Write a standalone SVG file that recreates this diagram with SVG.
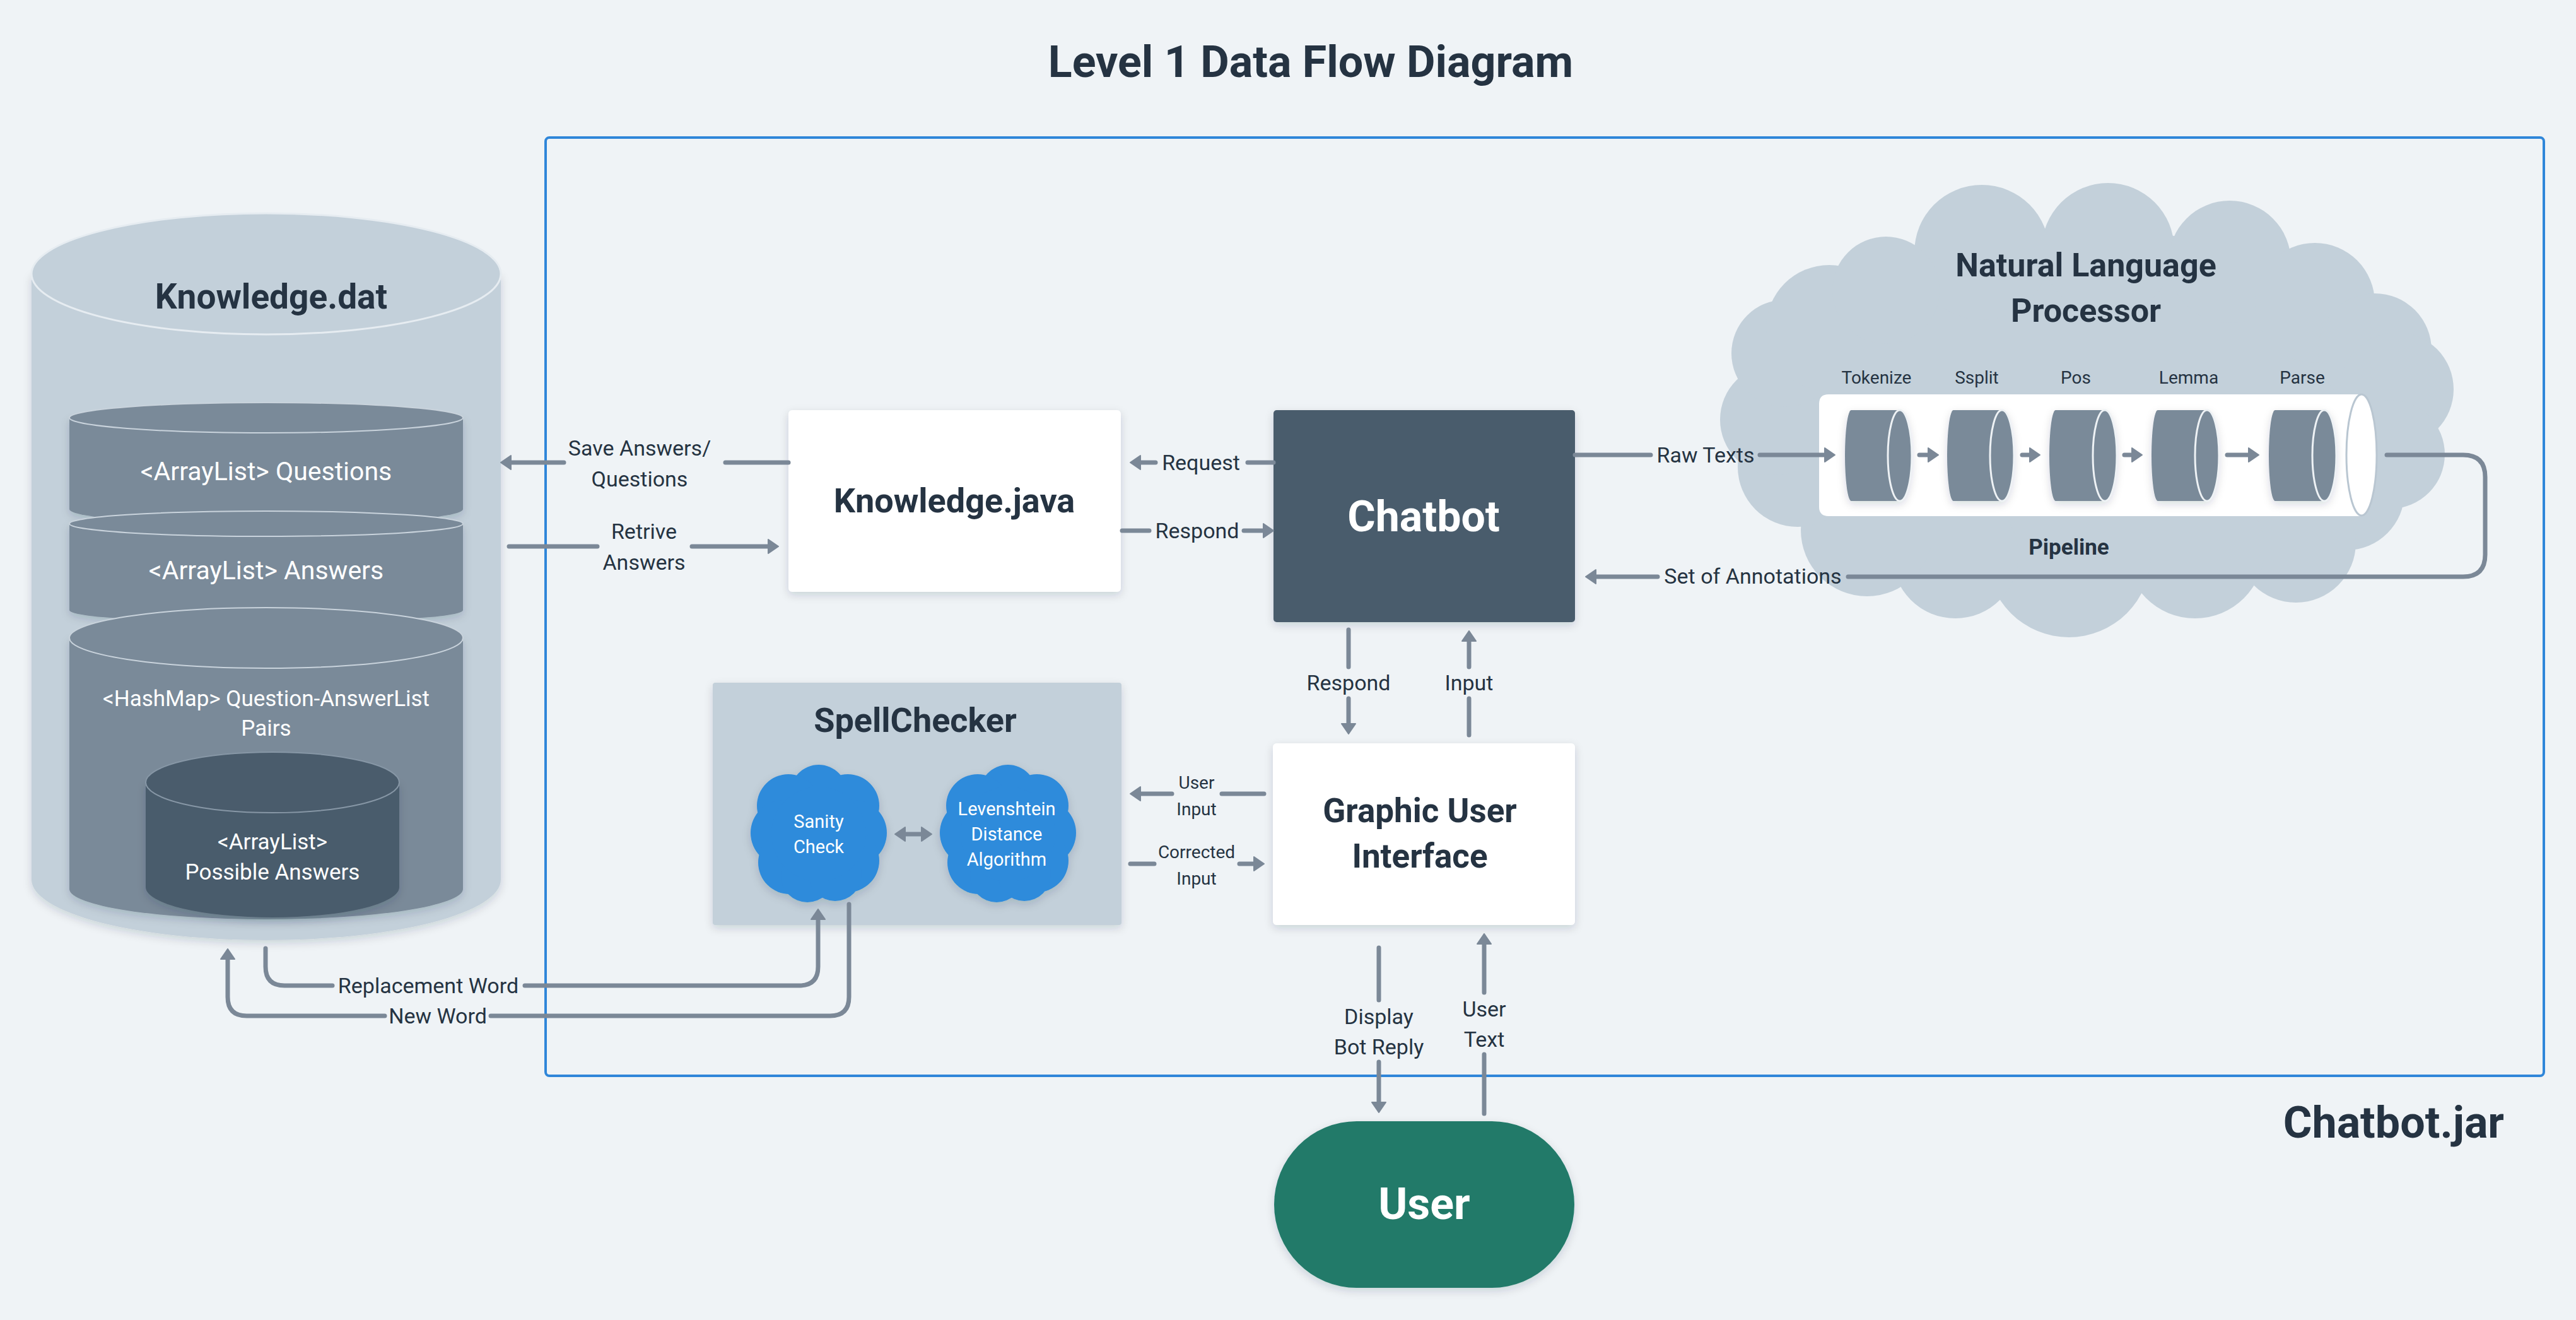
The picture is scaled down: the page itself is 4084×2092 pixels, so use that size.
<svg xmlns="http://www.w3.org/2000/svg" xmlns:xlink="http://www.w3.org/1999/xlink" width="4084" height="2092" viewBox="0 0 4084 2092">
<defs>
<style>
.t{font-family:Roboto,"Liberation Sans",sans-serif;fill:#253342;text-anchor:middle}
.b{font-weight:700}
.w{fill:#ffffff}
.lbl{font-size:34px}
.sm{font-size:28px}
.ln{fill:none;stroke:#7b8897;stroke-width:7;stroke-linecap:round;stroke-linejoin:round}
.arr{marker-end:url(#ah)}
.box{fill:#ffffff}
.lite{fill:#c3d0da}
.mid{fill:#7a8a99}
.dark{fill:#4a5c6c}
</style>
<filter id="sh" x="-10%" y="-10%" width="120%" height="130%">
<feDropShadow dx="0" dy="5" stdDeviation="7" flood-color="#1c2a38" flood-opacity="0.16"/>
</filter>
<marker id="ah" viewBox="0 0 18 26" refX="1" refY="13" markerWidth="18" markerHeight="26" markerUnits="userSpaceOnUse" orient="auto-start-reverse">
<path d="M1,2 L17,13 L1,24 Z" fill="#7b8897" stroke="#7b8897" stroke-width="2" stroke-linejoin="round"/>
</marker>
<g id="cloud">
<circle cx="0" cy="-65" r="45"/>
<circle cx="-48" cy="-45" r="50"/>
<circle cx="46" cy="-45" r="50"/>
<circle cx="-56" cy="-2" r="52"/>
<circle cx="56" cy="-2" r="52"/>
<circle cx="-46" cy="45" r="50"/>
<circle cx="46" cy="42" r="50"/>
<circle cx="-18" cy="66" r="42"/>
<circle cx="26" cy="64" r="42"/>
<circle cx="0" cy="0" r="75"/>
</g>
</defs>

<rect x="0" y="0" width="4084" height="2092" fill="#eff3f6"/>

<g id="title">
<text class="t b" x="2078" y="122" font-size="70">Level 1 Data Flow Diagram</text>
</g>

<g id="chatbot-jar">
<rect x="865" y="218" width="3168" height="1487" rx="6" fill="none" stroke="#2f86d9" stroke-width="4"/>
<text class="t b" x="3970" y="1803" font-size="70" style="text-anchor:end">Chatbot.jar</text>
</g>

<g id="knowledge-dat">
<g filter="url(#sh)">
<path class="lite" d="M50,434 V1394 A372,96 0 0 0 794,1394 V434 Z"/>
</g>
<ellipse cx="422" cy="434" rx="372" ry="96" fill="#c3d0da" stroke="#e6ecf1" stroke-width="3"/>
<text class="t b" x="430" y="489" font-size="55">Knowledge.dat</text>
<g filter="url(#sh)">
<path class="mid" d="M110,662 V807 A312,24 0 0 0 734,807 V662 Z"/>
</g>
<ellipse cx="422" cy="662" rx="312" ry="24" fill="#7a8a99" stroke="#c9d3dc" stroke-width="2"/>
<text class="t w" x="422" y="761" font-size="41">&lt;ArrayList&gt; Questions</text>
<g filter="url(#sh)">
<path class="mid" d="M110,830 V967 A312,20 0 0 0 734,967 V830 Z"/>
</g>
<ellipse cx="422" cy="830" rx="312" ry="20" fill="#7a8a99" stroke="#c9d3dc" stroke-width="2"/>
<text class="t w" x="422" y="918" font-size="41">&lt;ArrayList&gt; Answers</text>
<g filter="url(#sh)">
<path class="mid" d="M110,1011 V1409 A312,48 0 0 0 734,1409 V1011 Z"/>
</g>
<ellipse cx="422" cy="1011" rx="312" ry="48" fill="#7a8a99" stroke="#c9d3dc" stroke-width="2"/>
<text class="t w" x="422" y="1119" font-size="35">&lt;HashMap&gt; Question-AnswerList</text>
<text class="t w" x="422" y="1166" font-size="35">Pairs</text>
<g filter="url(#sh)">
<path class="dark" d="M231,1240 V1406 A201,48 0 0 0 633,1406 V1240 Z"/>
</g>
<ellipse cx="432" cy="1240" rx="201" ry="48" fill="#4a5c6c" stroke="#8797a6" stroke-width="2"/>
<text class="t w" x="432" y="1346" font-size="35">&lt;ArrayList&gt;</text>
<text class="t w" x="432" y="1394" font-size="35">Possible Answers</text>
</g>

<g id="knowledge-java">
<rect class="box" x="1250" y="650" width="527" height="288" rx="6" filter="url(#sh)"/>
<text class="t b" x="1513" y="812" font-size="54">Knowledge.java</text>
</g>

<g id="chatbot">
<rect class="dark" x="2019" y="650" width="478" height="336" rx="5" filter="url(#sh)"/>
<text class="t b w" x="2257" y="842" font-size="68">Chatbot</text>
</g>

<g id="nlp">
<g class="lite">
<ellipse cx="3300" cy="650" rx="480" ry="290"/>
<circle cx="3142" cy="400" r="107"/>
<circle cx="3342" cy="395" r="105"/>
<circle cx="3535" cy="415" r="97"/>
<circle cx="3670" cy="480" r="95"/>
<circle cx="3765" cy="555" r="90"/>
<circle cx="3800" cy="617" r="90"/>
<circle cx="3790" cy="720" r="86"/>
<circle cx="3720" cy="780" r="92"/>
<circle cx="3640" cy="860" r="95"/>
<circle cx="3480" cy="870" r="110"/>
<circle cx="3280" cy="880" r="130"/>
<circle cx="3100" cy="880" r="100"/>
<circle cx="2960" cy="840" r="105"/>
<circle cx="2850" cy="740" r="95"/>
<circle cx="2815" cy="665" r="88"/>
<circle cx="2830" cy="560" r="85"/>
<circle cx="2900" cy="520" r="100"/>
<circle cx="2990" cy="460" r="85"/>
</g>
<text class="t b" x="3307" y="438" font-size="52">Natural Language</text>
<text class="t b" x="3307" y="510" font-size="52">Processor</text>
<path d="M2899,625 H3744 V818 H2899 Q2884,818 2884,803 V640 Q2884,625 2899,625 Z" fill="#ffffff"/>
<ellipse cx="3744" cy="721" rx="24" ry="96" fill="#ffffff" stroke="#b9c6d1" stroke-width="3"/>
<g filter="url(#sh)">
<path class="mid" d="M2935,650 H3012 A19,72 0 0 1 3012,794 H2935 A10,72 0 0 1 2935,650 Z"/>
<path class="mid" d="M3097,650 H3174 A19,72 0 0 1 3174,794 H3097 A10,72 0 0 1 3097,650 Z"/>
<path class="mid" d="M3259,650 H3337 A19,72 0 0 1 3337,794 H3259 A10,72 0 0 1 3259,650 Z"/>
<path class="mid" d="M3421,650 H3499 A19,72 0 0 1 3499,794 H3421 A10,72 0 0 1 3421,650 Z"/>
<path class="mid" d="M3607,650 H3685 A19,72 0 0 1 3685,794 H3607 A10,72 0 0 1 3607,650 Z"/>
</g>
<g fill="#7a8a99" stroke="#eef2f5" stroke-width="3">
<ellipse cx="3012" cy="722" rx="19" ry="72"/>
<ellipse cx="3174" cy="722" rx="19" ry="72"/>
<ellipse cx="3337" cy="722" rx="19" ry="72"/>
<ellipse cx="3499" cy="722" rx="19" ry="72"/>
<ellipse cx="3685" cy="722" rx="19" ry="72"/>
</g>
<text class="t sm" x="2975" y="608">Tokenize</text>
<text class="t sm" x="3134" y="608">Ssplit</text>
<text class="t sm" x="3291" y="608">Pos</text>
<text class="t sm" x="3470" y="608">Lemma</text>
<text class="t sm" x="3650" y="608">Parse</text>
<text class="t b" x="3280" y="879" font-size="35">Pipeline</text>
</g>

<g id="spellchecker">
<rect class="lite" x="1130" y="1082" width="648" height="384" rx="4" filter="url(#sh)"/>
<text class="t b" x="1451" y="1160" font-size="54">SpellChecker</text>
<g id="sanity-check">
<use xlink:href="#cloud" href="#cloud" x="1298" y="1322" fill="#2e8bdb" filter="url(#sh)"/>
<text class="t w" x="1298" y="1312" font-size="29">Sanity</text>
<text class="t w" x="1298" y="1352" font-size="29">Check</text>
</g>
<g id="levenshtein">
<use xlink:href="#cloud" href="#cloud" x="1598" y="1322" fill="#2e8bdb" filter="url(#sh)"/>
<text class="t w" x="1596" y="1292" font-size="29">Levenshtein</text>
<text class="t w" x="1596" y="1332" font-size="29">Distance</text>
<text class="t w" x="1596" y="1372" font-size="29">Algorithm</text>
</g>
</g>

<g id="gui">
<rect class="box" x="2018" y="1178" width="479" height="288" rx="6" filter="url(#sh)"/>
<text class="t b" x="2251" y="1303" font-size="53">Graphic User</text>
<text class="t b" x="2251" y="1375" font-size="53">Interface</text>
</g>

<g id="user">
<rect x="2020" y="1777" width="476" height="264" rx="131" ry="132" fill="#207a69" filter="url(#sh)"/>
<text class="t b w" x="2258" y="1932" font-size="70">User</text>
</g>

<g id="connectors">
<path class="ln arr" d="M1250,733 H1150 M894,733 H810"/>
<path class="ln arr" d="M807,866 H947 M1097,866 H1218"/>
<path class="ln arr" d="M2019,733 H1978 M1832,733 H1808"/>
<path class="ln arr" d="M1779,841 H1822 M1972,841 H2003"/>
<path class="ln arr" d="M2497,721 H2617 M2790,721 H2893"/>
<path class="ln arr" d="M3784,721 H3905 Q3940,721 3940,756 V879 Q3940,914 3905,914 H2930 M2628,914 H2530"/>
<path class="ln arr" d="M2138,998 V1057 M2138,1107 V1147"/>
<path class="ln arr" d="M2329,1165 V1107 M2329,1057 V1016"/>
<path class="ln arr" d="M2004,1258 H1937 M1858,1258 H1808"/>
<path class="ln arr" d="M1792,1369 H1830 M1965,1369 H1988"/>
<path class="ln arr" d="M2186,1502 V1585 M2186,1683 V1747"/>
<path class="ln arr" d="M2353,1765 V1671 M2353,1573 V1496"/>
<path class="ln arr" d="M421,1503 V1532 Q421,1562 451,1562 H527 M832,1562 H1267 Q1297,1562 1297,1532 V1457"/>
<path class="ln arr" d="M1346,1433 V1580 Q1346,1610 1316,1610 H778 M610,1610 H391 Q361,1610 361,1580 V1520"/>
<path class="ln arr" d="M1435,1322 H1461" style="marker-start:url(#ah)"/>
<path class="ln arr" d="M3043,721 H3057"/>
<path class="ln arr" d="M3206,721 H3218"/>
<path class="ln arr" d="M3368,721 H3380"/>
<path class="ln arr" d="M3531,721 H3565"/>
<text class="t lbl" x="1014" y="722">Save Answers/</text>
<text class="t lbl" x="1014" y="771">Questions</text>
<text class="t lbl" x="1021" y="854">Retrive</text>
<text class="t lbl" x="1021" y="903">Answers</text>
<text class="t lbl" x="1904" y="745">Request</text>
<text class="t lbl" x="1898" y="853">Respond</text>
<text class="t lbl" x="2704" y="733">Raw Texts</text>
<text class="t lbl" x="2779" y="925">Set of Annotations</text>
<text class="t lbl" x="2138" y="1094">Respond</text>
<text class="t lbl" x="2329" y="1094">Input</text>
<text class="t sm" x="1897" y="1250">User</text>
<text class="t sm" x="1897" y="1292">Input</text>
<text class="t sm" x="1897" y="1360">Corrected</text>
<text class="t sm" x="1897" y="1402">Input</text>
<text class="t lbl" x="2186" y="1623">Display</text>
<text class="t lbl" x="2186" y="1671">Bot Reply</text>
<text class="t lbl" x="2353" y="1611">User</text>
<text class="t lbl" x="2353" y="1659">Text</text>
<text class="t lbl" x="679" y="1574">Replacement Word</text>
<text class="t lbl" x="694" y="1622">New Word</text>
</g>
</svg>
